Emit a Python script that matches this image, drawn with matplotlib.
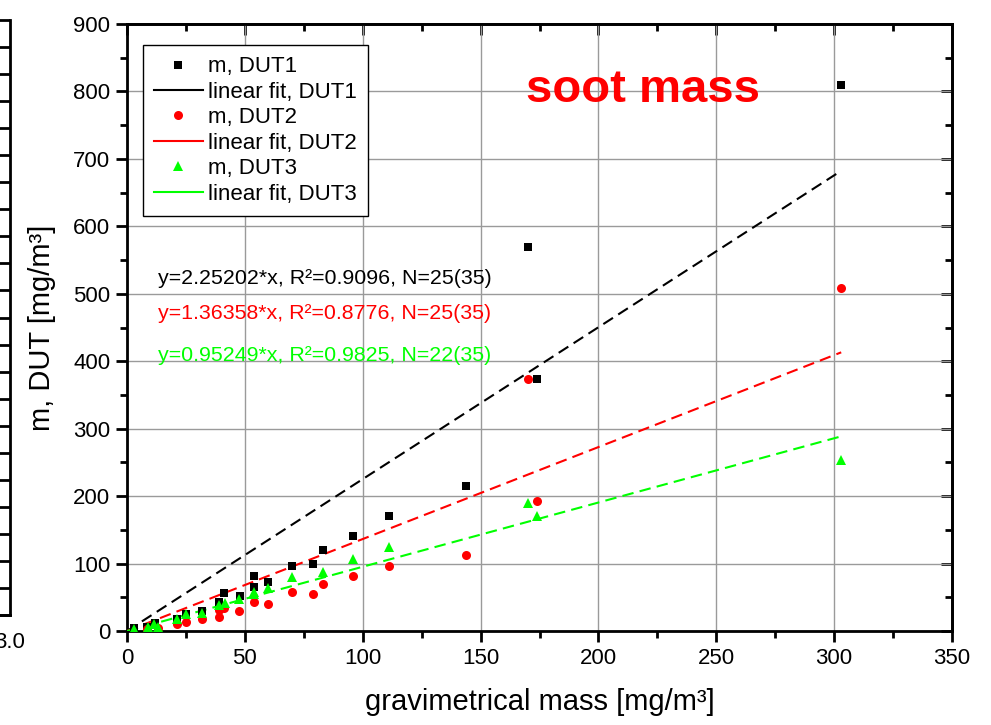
import numpy as np
import matplotlib
matplotlib.use("Agg")
import matplotlib.pyplot as plt
from matplotlib.ticker import MultipleLocator
from matplotlib.lines import Line2D

plt.rcParams['font.family'] = ['Liberation Sans', 'DejaVu Sans']

# gravimetrical mass (x) vs DUT readings (y)
x_dut1 = [3, 8.5, 12, 21, 25, 32, 39, 41, 48, 54, 54, 60, 70, 79, 83, 96, 111, 144, 170, 174, 303]
y_dut1 = [4, 6, 12, 18, 25, 30, 43, 56, 52, 82, 65, 73, 96, 99, 120, 141, 171, 215, 570, 374, 810]

x_dut2 = [8.5, 13, 21, 25, 32, 39, 39, 41, 47.5, 54, 60, 70, 79, 83, 96, 111, 144, 170, 174, 303]
y_dut2 = [3, 4, 10, 13, 18, 21, 31, 34, 30, 43, 40, 58, 55, 70, 82, 97, 113, 373, 193, 508]

x_dut3 = [3, 9, 11.5, 13, 21, 25, 32, 39, 41.6, 47.5, 54, 54, 60, 70, 83, 96, 111, 170, 174, 303]
y_dut3 = [3, 6, 10, 6, 18, 25, 27, 38, 41, 47, 58, 55, 64, 80, 88, 107, 125, 190, 170, 253]

slopes = [2.25202, 1.36358, 0.95249]
fit_texts = ["y=2.25202*x, R²=0.9096, N=25(35)",
             "y=1.36358*x, R²=0.8776, N=25(35)",
             "y=0.95249*x, R²=0.9825, N=22(35)"]

GREEN = '#00ff00'
RED = '#ff0000'

fig = plt.figure(figsize=(9.91, 7.25), dpi=100)
ax = fig.add_axes([127/991, 1 - 631/725, (952-127)/991, (631-24)/725])

series = [(x_dut1, y_dut1, 'black', 's', 6),
          (x_dut2, y_dut2, RED, 'o', 6.5),
          (x_dut3, y_dut3, GREEN, '^', 7)]

for (xs, ys, col, mk, ms), k in zip(series, slopes):
    xf = np.array([0, max(xs)])
    ax.plot(xf, k * xf, color=col, lw=1.5, dashes=(5.5, 3), zorder=3)
    ax.plot(xs, ys, linestyle='none', marker=mk, ms=ms, color=col,
            markeredgewidth=0, zorder=4)

ax.set_xlim(0, 350)
ax.set_ylim(0, 900)
ax.xaxis.set_major_locator(MultipleLocator(50))
ax.xaxis.set_minor_locator(MultipleLocator(25))
ax.yaxis.set_major_locator(MultipleLocator(100))
ax.yaxis.set_minor_locator(MultipleLocator(50))
ax.grid(True, which='major', color='#9a9a9a', lw=1)
ax.set_axisbelow(True)
ax.tick_params(which='major', direction='out', length=8, width=2, labelsize=16, pad=4)
ax.tick_params(which='minor', direction='out', length=5, width=2)
for s in ax.spines.values():
    s.set_linewidth(2)

# mirrored ticks on top and right, pointing inwards
top = ax.secondary_xaxis('top')
top.xaxis.set_major_locator(MultipleLocator(50))
top.xaxis.set_minor_locator(MultipleLocator(25))
top.tick_params(which='major', direction='in', length=8, width=2, labeltop=False)
top.tick_params(which='minor', direction='in', length=5, width=2)
right = ax.secondary_yaxis('right')
right.yaxis.set_major_locator(MultipleLocator(100))
right.yaxis.set_minor_locator(MultipleLocator(50))
right.tick_params(which='major', direction='in', length=8, width=2, labelright=False)
right.tick_params(which='minor', direction='in', length=5, width=2)
for s in list(top.spines.values()) + list(right.spines.values()):
    s.set_linewidth(2)

ax.set_xlabel('gravimetrical mass [mg/m³]', fontsize=21, labelpad=14)
ax.set_ylabel('m, DUT [mg/m³]', fontsize=21, labelpad=12)

for txt, col, yv in zip(fit_texts, ['black', RED, GREEN], [522, 471, 409]):
    ax.text(13, yv, txt, color=col, fontsize=15.4, ha='left', va='center')

ax.text(219, 802, 'soot mass', color=RED, fontsize=34, fontweight='bold',
        ha='center', va='center')

handles = [
    Line2D([], [], ls='none', marker='s', ms=6, color='black', mew=0),
    Line2D([], [], color='black', lw=1.5),
    Line2D([], [], ls='none', marker='o', ms=6.5, color=RED, mew=0),
    Line2D([], [], color=RED, lw=1.5),
    Line2D([], [], ls='none', marker='^', ms=7, color=GREEN, mew=0),
    Line2D([], [], color=GREEN, lw=1.5),
]
labels = ['m, DUT1', 'linear fit, DUT1', 'm, DUT2', 'linear fit, DUT2',
          'm, DUT3', 'linear fit, DUT3']
leg = ax.legend(handles, labels, loc='upper left', bbox_to_anchor=(0.019, 0.965),
                borderaxespad=0, fontsize=16, fancybox=False, framealpha=1,
                edgecolor='black', handlelength=2.2, handletextpad=0.22,
                labelspacing=0.2, borderpad=0.5)
leg.get_frame().set_linewidth(1)

# edge of the neighbouring chart, cut off at the left border
nb = fig.add_axes([-0.3, 1 - 615/725, 0.3 + 10/991, (615-20)/725])
nb.set_xlim(0, 3)
nb.set_ylim(0, 22)
nb.spines['left'].set_visible(False)
nb.spines['top'].set_visible(False)
nb.spines['right'].set_linewidth(2)
nb.spines['bottom'].set_linewidth(2)
nb.yaxis.tick_right()
nb.set_yticks(range(23))
nb.set_yticklabels([])
nb.tick_params(axis='y', direction='in', length=8, width=2)
nb.set_xticks([3])
nb.set_xticklabels(['3.0'])
nb.tick_params(axis='x', length=0, labelsize=16, pad=12)
nb.patch.set_alpha(0)

fig.savefig('out.png', dpi=100)
